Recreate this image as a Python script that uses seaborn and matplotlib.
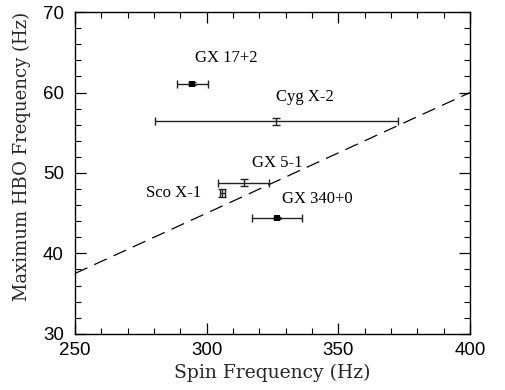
import numpy as np
import pandas as pd
import matplotlib
matplotlib.use("Agg")
import matplotlib.pyplot as plt
import seaborn as sns
from matplotlib.ticker import MultipleLocator

# Data
sources = ["GX 17+2", "Cyg X-2", "GX 5-1", "Sco X-1", "GX 340+0"]
spin = [294.5, 326.5, 314.0, 306.0, 326.6]
spin_err = [5.9, 46.0, 9.6, 1.0, 9.5]
hbo = [61.1, 56.4, 48.8, 47.5, 44.4]
hbo_err = [0.15, 0.4, 0.45, 0.5, 0.15]
filled = [True, False, False, False, True]

# label anchor positions (data coordinates) and alignment
label_x = [295.6, 326.3, 317.2, 297.9, 328.6]
label_y = [64.3, 59.4, 51.3, 47.5, 46.8]
label_ha = ["left", "left", "left", "right", "left"]

# dashed relation nu_HBO = 0.15 * nu_spin
line_spin = [250, 400]
line_ratio = 0.15

sns.set_style("ticks")
plt.rcParams["font.family"] = ["DejaVu Serif"]

fig = plt.figure(figsize=(5.06, 3.90), dpi=100)
ax = fig.add_axes([0.148, 0.144, 0.781, 0.825])

df_line = pd.DataFrame({"spin": line_spin,
                        "hbo": [line_ratio * s for s in line_spin]})
sns.lineplot(data=df_line, x="spin", y="hbo", ax=ax, color="black",
             linewidth=0.9, legend=False)
ax.lines[-1].set_linestyle((0, (11, 6)))

for i in range(len(sources)):
    ax.errorbar(spin[i], hbo[i], xerr=spin_err[i], yerr=hbo_err[i],
                fmt="none", ecolor="#222222", elinewidth=1.0,
                capsize=3, capthick=1.0)

df_pts = pd.DataFrame({"spin": [s for s, f in zip(spin, filled) if f],
                       "hbo": [h for h, f in zip(hbo, filled) if f]})
sns.scatterplot(data=df_pts, x="spin", y="hbo", ax=ax, marker="s",
                s=16, color="black", linewidth=0, zorder=5)

for name, lx, ly, ha in zip(sources, label_x, label_y, label_ha):
    ax.text(lx, ly, name, ha=ha, va="center", fontsize=12,
            family="Liberation Serif", color="black")

ax.set_xlim(250, 400)
ax.set_ylim(30, 70)
ax.xaxis.set_major_locator(MultipleLocator(50))
ax.xaxis.set_minor_locator(MultipleLocator(10))
ax.yaxis.set_major_locator(MultipleLocator(10))
ax.yaxis.set_minor_locator(MultipleLocator(2))
ax.tick_params(which="both", direction="in", top=True, right=True,
               colors="black", labelsize=13.5)
ax.tick_params(which="major", length=8, width=0.9)
ax.tick_params(which="minor", length=4, width=0.8)
ax.tick_params(axis="x", which="major", pad=6)
ax.tick_params(axis="y", which="major", pad=8)
for lab in ax.get_xticklabels() + ax.get_yticklabels():
    lab.set_family("Liberation Sans")
for sp in ax.spines.values():
    sp.set_visible(True)
    sp.set_linewidth(1.0)
    sp.set_color("black")

ax.set_xlabel("Spin Frequency (Hz)", fontsize=13.5, labelpad=3)
ax.set_ylabel("Maximum HBO Frequency (Hz)", fontsize=13, labelpad=10)
ax.yaxis.set_label_coords(-0.11, 0.55)

fig.savefig("out.png", dpi=100)
